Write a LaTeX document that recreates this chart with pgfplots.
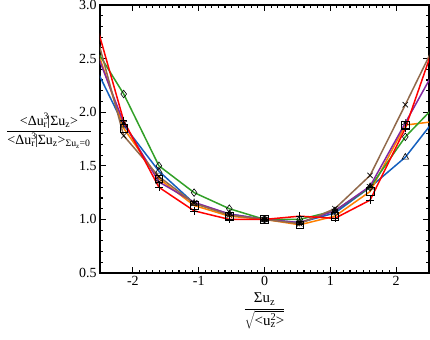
\documentclass[border=0pt]{standalone}
\usepackage{fontspec}
\setmainfont{Liberation Serif}
\usepackage{pgfplots}
\pgfplotsset{compat=1.18}
\definecolor{cblue}{RGB}{20,95,190}
\definecolor{corange}{RGB}{255,128,0}
\definecolor{cgreen}{RGB}{50,160,40}
\definecolor{cred}{RGB}{255,0,0}
\definecolor{cpurple}{RGB}{130,40,160}
\definecolor{cbrown}{RGB}{145,105,75}

\pgfplotsset{
  ser/.style={line width=1.5bp, mark options={black, line width=0.6bp, solid, fill=none},
    mark size=3.8bp, mark indices={1,2,3,4,5,6,7,8,9}},
}

\begin{document}
\begin{tikzpicture}
\useasboundingbox (-100bp,-67bp) rectangle (330bp,273bp);
\begin{axis}[
    at={(0,0)}, anchor=south west,
    scale only axis, width=329bp, height=268bp,
    xmin=-2.5, xmax=2.5, ymin=0.5, ymax=3.0,
    xtick={-2,-1,0,1,2}, ytick={0.5,1.0,1.5,2.0,2.5,3.0},
    minor x tick num=9, minor y tick num=4,
    tick align=inside,
    major tick length=6bp, minor tick length=3bp,
    axis line style={line width=1.4bp},
    every tick/.style={black, line width=1.1bp},
    ticklabel style={font=\fontsize{14}{16}\selectfont},
    /pgf/number format/assume math mode=true,
    y tick label style={/pgf/number format/.cd, fixed, fixed zerofill, precision=1},
    xlabel={\fontsize{15}{17}\selectfont$\displaystyle\frac{\mbox{Σu\textsubscript{z}}}{\sqrt{\mbox{<u\rlap{\textsuperscript{2}}\textsubscript{z}>}}}$},
    every axis x label/.style={at={(axis description cs:0.5,0)}, yshift=-38bp, anchor=center},
    ylabel={\fontsize{14}{16}\selectfont$\displaystyle\frac{\mbox{<Δu\rlap{\textsuperscript{3}}\textsubscript{r}|Σu\textsubscript{z}>}}{\mbox{<Δu\rlap{\textsuperscript{3}}\textsubscript{r}|Σu\textsubscript{z}>\textsubscript{Σu\textsubscript{z}=0}}}$},
    every axis y label/.style={at={(axis description cs:-0.155,0.53)}, anchor=center},
    clip=true,
  ]
  \addplot[ser, cblue, mark=triangle] coordinates {
    (-2.675,2.55) (-2.14,1.88) (-1.605,1.45) (-1.07,1.15) (-0.535,1.05) (0,1.0)
    (0.535,0.97) (1.07,1.06) (1.605,1.30) (2.14,1.58) (2.675,2.00)
  };
  \addplot[ser, corange, mark=square] coordinates {
    (-2.675,2.82) (-2.14,1.85) (-1.605,1.38) (-1.07,1.13) (-0.535,1.03) (0,1.0)
    (0.535,0.95) (1.07,1.03) (1.605,1.26) (2.14,1.88) (2.675,1.92)
  };
  \addplot[ser, cgreen, mark=diamond] coordinates {
    (-2.675,2.70) (-2.14,2.17) (-1.605,1.50) (-1.07,1.25) (-0.535,1.10) (0,1.0)
    (0.535,1.00) (1.07,1.08) (1.605,1.30) (2.14,1.77) (2.675,2.11)
  };
  \addplot[ser, cpurple, mark=asterisk] coordinates {
    (-2.675,2.75) (-2.14,1.90) (-1.605,1.35) (-1.07,1.16) (-0.535,1.05) (0,1.0)
    (0.535,0.97) (1.07,1.08) (1.605,1.31) (2.14,1.90) (2.675,2.49)
  };
  \addplot[ser, cbrown, mark=x] coordinates {
    (-2.675,3.00) (-2.14,1.78) (-1.605,1.40) (-1.07,1.15) (-0.535,1.04) (0,1.0)
    (0.535,0.96) (1.07,1.10) (1.605,1.41) (2.14,2.07) (2.675,2.74)
  };
  \addplot[ser, cred, mark=+] coordinates {
    (-2.675,3.08) (-2.14,1.92) (-1.605,1.30) (-1.07,1.08) (-0.535,1.00) (0,1.0)
    (0.535,1.03) (1.07,1.01) (1.605,1.18) (2.14,1.85) (2.675,2.80)
  };
\end{axis}
\end{tikzpicture}
\end{document}
